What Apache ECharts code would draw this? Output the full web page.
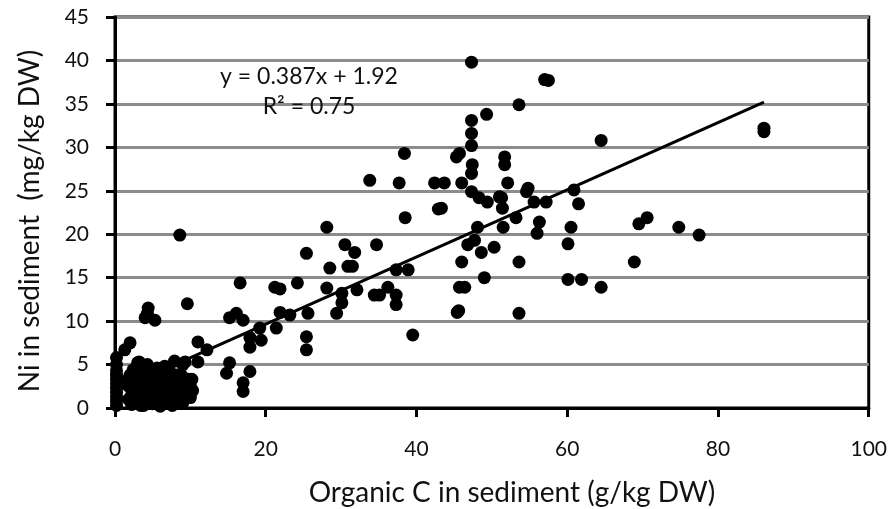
<!DOCTYPE html>
<html>
<head>
<meta charset="utf-8">
<script src="https://cdn.jsdelivr.net/npm/echarts@6/dist/echarts.min.js"></script>
<style>
  html, body { margin: 0; padding: 0; background: #fff; }
  #chart { width: 890px; height: 509px; }
</style>
</head>
<body>
<div id="chart"></div>
<script>
// organic C (g/kg DW) vs Ni (mg/kg DW)
const carbon = [
  0.2, 0.2, 0.2, 0.2, 0.2, 0.2, 0.2, 0.2, 0.2, 0.2, 0.2,
  1.3, 2.0, 3.2, 4.0, 4.4, 4.3, 5.3, 8.6, 9.6, 7.9, 9.0, 11.0, 12.2, 11.0, 9.3, 3.0,
  2.5, 2.8, 3.0, 3.5, 3.8, 3.4, 4.0, 4.2, 4.5, 4.8, 5.0, 5.2, 5.5, 5.8, 6.0, 6.2, 6.5, 6.8,
  7.0, 7.2, 7.5, 7.8, 8.0, 8.3, 8.6, 9.0, 9.5, 10.0, 10.2, 9.3, 3.7, 5.6, 6.6, 4.3, 2.6, 2.2,
  3.1, 6.2, 8.2,
  1.8, 1.8, 2.0, 2.4, 3.3, 4.0, 4.6, 5.3, 6.0, 7.2, 7.8, 8.8, 9.8, 10.3, 10.0, 9.0, 8.8,
  7.6, 6.8, 5.8, 4.6, 3.8, 2.2, 1.6, 6.4, 7.2, 5.2, 4.4, 3.4, 2.9, 8.1, 9.7, 6.0, 5.0,
  14.8, 15.2, 17.9, 17.0, 17.0, 15.2, 16.1, 17.0, 17.9, 17.9, 19.2, 19.4, 21.4, 21.9, 23.2,
  16.6, 21.2, 21.9, 24.2, 25.4, 25.6, 25.4, 25.4, 28.1, 28.5, 28.1, 29.4, 30.1, 30.1, 30.5,
  30.9, 31.5, 31.8, 32.1, 33.8, 34.4, 35.1, 34.7, 36.2, 37.3, 37.3, 37.3, 37.7, 38.4, 38.5,
  38.9, 39.5,
  42.4, 43.7, 42.9, 46.0, 45.3, 45.7, 47.3, 47.4, 47.3, 48.3, 49.4, 48.1, 47.7, 46.8, 48.6,
  50.3, 46.0, 45.7, 46.4, 45.4, 45.6, 49.0, 53.6, 53.6, 51.5, 51.3, 51.4, 53.2, 52.1, 51.7,
  51.7, 54.6, 54.8, 47.3, 57.0, 57.5, 53.6, 49.3, 47.3, 47.3, 47.3, 51.0, 55.6, 57.2, 60.9,
  61.5, 56.3, 56.0, 60.5, 60.1, 60.1, 61.9, 64.5, 64.5, 68.9, 69.5, 70.6, 74.8, 77.5, 86.1,
  86.1, 43.3
];
const nickel = [
  0.3, 0.8, 1.3, 1.8, 2.3, 2.8, 3.3, 3.8, 4.3, 5.0, 5.8,
  6.7, 7.5, 5.3, 10.4, 11.5, 10.9, 10.1, 19.9, 12.0, 5.4, 5.0, 7.6, 6.7, 5.3, 5.3, 5.2,
  0.5, 1.5, 2.5, 3.5, 4.5, 0.3, 1.0, 2.0, 3.0, 4.0, 0.5, 1.5, 2.5, 3.5, 0.3, 1.2, 2.2, 3.2,
  4.2, 0.6, 1.8, 2.8, 0.5, 1.5, 2.5, 3.0, 2.8, 2.5, 3.3, 1.5, 1.8, 4.6, 4.8, 5.0, 3.0, 1.5,
  0.6, 3.7, 3.8,
  1.0, 2.5, 3.8, 4.4, 4.2, 3.6, 4.4, 4.3, 4.4, 4.4, 3.6, 3.8, 3.3, 2.0, 1.2, 0.6, 2.0,
  0.3, 0.8, 1.5, 0.6, 0.3, 0.4, 3.2, 2.8, 2.2, 3.3, 2.6, 1.3, 3.6, 3.2, 2.2, 0.2, 2.0,
  4.0, 5.2, 4.2, 2.9, 1.9, 10.4, 10.9, 10.1, 8.1, 7.0, 9.2, 7.8, 9.2, 11.0, 10.7,
  14.4, 13.9, 13.7, 14.4, 17.8, 10.9, 8.2, 6.7, 20.8, 16.1, 13.8, 10.9, 12.1, 13.2, 18.8,
  16.3, 16.3, 17.9, 13.6, 26.2, 13.0, 13.0, 18.8, 13.9, 13.0, 11.9, 15.9, 25.9, 29.3, 21.9,
  15.9, 8.4,
  25.9, 25.9, 22.9, 25.9, 28.9, 29.3, 27.0, 28.0, 24.9, 24.2, 23.7, 20.8, 19.3, 18.8, 17.9,
  18.5, 16.8, 13.9, 13.9, 11.0, 11.2, 15.0, 16.8, 10.9, 20.8, 24.2, 23.0, 21.9, 25.9, 28.9,
  28.0, 24.9, 25.3, 39.8, 37.8, 37.7, 34.9, 33.8, 33.1, 31.6, 30.2, 24.3, 23.7, 23.7, 25.1,
  23.5, 21.4, 20.1, 20.8, 18.9, 14.8, 14.8, 13.9, 30.8, 16.8, 21.2, 21.9, 20.8, 19.9, 31.8,
  32.2, 23.0
];
// linear trend y = 0.387x + 1.92, drawn across the data range
const trendX = [0.2, 86.1];
const trendY = [2.0, 35.2];

const xTicks = [0, 20, 40, 60, 80, 100];
const yTicks = [0, 5, 10, 15, 20, 25, 30, 35, 40, 45];

const points = carbon.map((c, i) => [c, nickel[i]]);
const trend = trendX.map((x, i) => [x, trendY[i]]);

const labelFont = 'Lato, "Open Sans", sans-serif';

const myChart = echarts.init(document.getElementById('chart'));
myChart.setOption({
  animation: false,
  grid: { left: 115, right: 20, top: 17, bottom: 101, show: true, borderColor: '#000', borderWidth: 3 },
  xAxis: {
    type: 'value',
    min: xTicks[0],
    max: xTicks[xTicks.length - 1],
    interval: 20,
    axisLine: { show: true, lineStyle: { color: '#000', width: 3 } },
    axisTick: { show: true, length: 9, lineStyle: { color: '#000', width: 3 } },
    axisLabel: { fontFamily: labelFont, fontSize: 21, color: '#111', margin: 31 },
    splitLine: { show: false }
  },
  yAxis: {
    type: 'value',
    min: yTicks[0],
    max: yTicks[yTicks.length - 1],
    interval: 5,
    axisLine: { show: true, lineStyle: { color: '#000', width: 3 } },
    axisTick: { show: true, length: 9, lineStyle: { color: '#000', width: 3 } },
    axisLabel: { fontFamily: labelFont, fontSize: 21, color: '#111', margin: 26 },
    splitLine: { show: true, lineStyle: { color: '#8c8c8c', width: 3 } }
  },
  series: [
    {
      type: 'scatter',
      data: points,
      symbol: 'circle',
      symbolSize: 13,
      itemStyle: { color: '#000', opacity: 1 },
      z: 3
    },
    {
      type: 'line',
      data: trend,
      symbol: 'none',
      lineStyle: { color: '#000', width: 3 },
      z: 4
    }
  ],
  graphic: [
    {
      type: 'text', x: 512, y: 493, z: 10,
      style: {
        text: 'Organic C in sediment (g/kg DW)', fontFamily: labelFont, fontSize: 28, fill: '#111',
        textAlign: 'center', textVerticalAlign: 'middle'
      }
    },
    {
      type: 'text', x: 30, y: 221, rotation: Math.PI / 2, z: 10,
      style: {
        text: 'Ni in sediment  (mg/kg DW)', fontFamily: labelFont, fontSize: 28, fill: '#111',
        textAlign: 'center', textVerticalAlign: 'middle'
      }
    },
    {
      type: 'text', x: 309, y: 77, z: 10,
      style: { text: 'y = 0.387x + 1.92', fontFamily: labelFont, fontSize: 23, fill: '#111', textAlign: 'center', textVerticalAlign: 'middle' }
    },
    {
      type: 'text', x: 309, y: 107, z: 10,
      style: { text: 'R² = 0.75', fontFamily: labelFont, fontSize: 23, fill: '#111', textAlign: 'center', textVerticalAlign: 'middle' }
    }
  ]
});
</script>
</body>
</html>
